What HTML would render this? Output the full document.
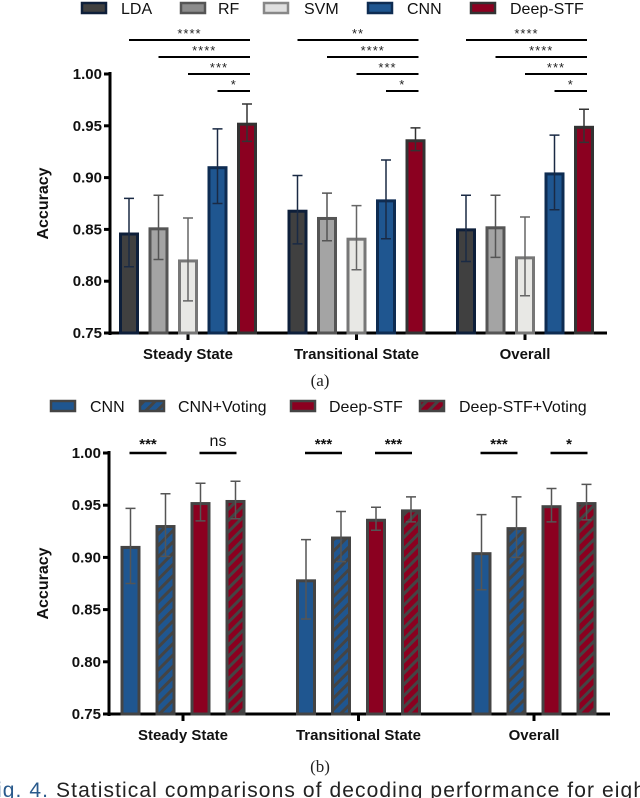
<!DOCTYPE html>
<html><head><meta charset="utf-8">
<style>
html,body{margin:0;padding:0;background:#fff;width:640px;height:798px;overflow:hidden}
svg{display:block}
text{font-family:"Liberation Sans",Arial,sans-serif}
</style></head>
<body>
<svg id="fig" width="640" height="798" viewBox="0 0 640 798" xmlns="http://www.w3.org/2000/svg">
<defs>
<pattern id="hatchBlue" patternUnits="userSpaceOnUse" width="8" height="8" patternTransform="rotate(45)">
<rect width="8" height="8" fill="#1f5690"/><rect width="3" height="8" fill="#444"/></pattern>
<pattern id="hatchRed" patternUnits="userSpaceOnUse" width="8" height="8" patternTransform="rotate(45)">
<rect width="8" height="8" fill="#8b0020"/><rect width="3" height="8" fill="#444"/></pattern>
</defs>
<g id="chartA"></g>
<g id="chartB"></g>
<text x="320" y="386" text-anchor="middle" font-size="17" fill="#222" style="font-family:'Liberation Serif',serif">(a)</text>
<text x="320" y="772" text-anchor="middle" font-size="17" fill="#222" style="font-family:'Liberation Serif',serif">(b)</text>
<text x="-3" y="797" font-size="21" fill="#222" textLength="648" lengthAdjust="spacing"><tspan fill="#2a5a8c">ig. 4.</tspan> Statistical comparisons of decoding performance for eigh</text>
</svg>
<script>
// ---------- Chart A data ----------
const catsA = ["Steady State","Transitional State","Overall"];
const seriesA = ["LDA","RF","SVM","CNN","Deep-STF"];
const valsLDA = [0.847,0.869,0.851];
const errLDA  = [0.033,0.033,0.032];
const valsRF  = [0.852,0.862,0.853];
const errRF   = [0.031,0.023,0.030];
const valsSVM = [0.821,0.842,0.824];
const errSVM  = [0.040,0.031,0.038];
const valsCNN = [0.911,0.879,0.905];
const errCNN  = [0.036,0.038,0.036];
const valsDeep= [0.953,0.937,0.950];
const errDeep = [0.018,0.011,0.016];
const sigA = [["****","****","***","*"],["**","****","***","*"],["****","****","***","*"]];
const ticksY = [0.75,0.80,0.85,0.90,0.95,1.00];
const tickLabels = ["0.75","0.80","0.85","0.90","0.95","1.00"];
// ---------- Chart B data ----------
const catsB = ["Steady State","Transitional State","Overall"];
const seriesB = ["CNN","CNN+Voting","Deep-STF","Deep-STF+Voting"];
const valsBCNN = [0.911,0.879,0.905];
const errBCNN  = [0.036,0.038,0.036];
const valsBCV  = [0.931,0.920,0.929];
const errBCV   = [0.030,0.024,0.029];
const valsBD   = [0.953,0.937,0.950];
const errBD    = [0.018,0.011,0.016];
const valsBDV  = [0.955,0.946,0.953];
const errBDV   = [0.018,0.012,0.017];
const sigB = [["***","ns"],["***","***"],["***","*"]];

const NS="http://www.w3.org/2000/svg";
function el(parent,tag,attrs,txt){const e=document.createElementNS(NS,tag);for(const k in attrs)e.setAttribute(k,attrs[k]);if(txt!==undefined)e.textContent=txt;parent.appendChild(e);return e;}

function drawChart(g,opt){
  const y=v=>opt.y0+(v-0.75)/0.25*(opt.y1-opt.y0);
  const ya=el(g,'line',{x1:opt.ax,y1:opt.y1-2,x2:opt.ax,y2:opt.y0+2,stroke:'#000','stroke-width':3});
  
  
  const xa=el(g,'line',{x1:opt.ax-1,y1:opt.y0,x2:opt.axEnd,y2:opt.y0,stroke:'#000','stroke-width':3});
  
  
  ticksY.forEach((t,i)=>{
    const tl=el(g,'line',{x1:opt.ax-6,y1:y(t),x2:opt.ax,y2:y(t),stroke:'#000','stroke-width':3});
    
    
    const tx=el(g,'text',{x:opt.ax-8,y:y(t)+5,'text-anchor':'end','font-size':15,'font-weight':'bold',fill:'#111'},tickLabels[i]);
    
    
  });
  const yt=el(g,'text',{x:0,y:0,'text-anchor':'middle','font-size':16,'font-weight':'bold',fill:'#111',transform:`translate(48,${(opt.y0+opt.y1)/2}) rotate(-90)`},'Accuracy');
  
  
  opt.cats.forEach((c,ci)=>{
    const cx=opt.c0+ci*opt.gstep;
    const tk=el(g,'line',{x1:cx,y1:opt.y0,x2:cx,y2:opt.y0+7,stroke:'#000','stroke-width':3});
    
    
    const lb=el(g,'text',{x:cx,y:opt.y0+26,'text-anchor':'middle','font-size':15,'font-weight':'bold',fill:'#111'},c);
    
    
    opt.series.forEach((s,si)=>{
      const bx=cx+opt.offs[si]-opt.bw/2;
      const v=s.vals[ci], e=s.errs[ci];
      const r=el(g,'rect',{x:bx+1.5,y:y(v)+1.5,width:opt.bw-3,height:opt.y0-y(v)-1.5,fill:s.fill,stroke:s.stroke,'stroke-width':3});
      
      
      const bcx=cx+opt.offs[si];
      const eb=el(g,'path',{d:`M${bcx},${y(v+e)}V${y(v-e)}M${bcx-5},${y(v+e)}H${bcx+5}M${bcx-5},${y(v-e)}H${bcx+5}`,stroke:s.eb,'stroke-width':1.5,fill:'none'});
      
      
    });
  });
}

function legend(g,items,y){
  items.forEach(it=>{
    const r=el(g,'rect',{x:it.sx+1,y:y-5,width:24,height:10,fill:it.fill,stroke:it.stroke,'stroke-width':2.5});
    
    
    const t=el(g,'text',{x:it.tx,y:y+6,'font-size':16,fill:'#111'},it.label);
    
    
  });
}

// Chart A
const gA=document.getElementById('chartA');
const stylesA=[
 {key:'lda',fill:'#404040',stroke:'#0e1f3a',eb:'#1a2a44'},
 {key:'rf',fill:'#a4a4a4',stroke:'#555',eb:'#555'},
 {key:'svm',fill:'#e8e8e5',stroke:'#777',eb:'#666'},
 {key:'cnn',fill:'#1f5690',stroke:'#0e2c52',eb:'#1a2a44'},
 {key:'deep',fill:'#8b0020',stroke:'#333',eb:'#333'}];
const vA=[valsLDA,valsRF,valsSVM,valsCNN,valsDeep], eA=[errLDA,errRF,errSVM,errCNN,errDeep];
drawChart(gA,{y0:333,y1:74,ax:110,axEnd:607,c0:188,gstep:168.5,bw:20,offs:[-59,-29.5,0,29.5,59],cats:catsA,
 series:stylesA.map((s,i)=>Object.assign({vals:vA[i],errs:eA[i]},s))});
const sigYA=[40,57,74,91];
catsA.forEach((c,ci)=>{
  const cx=188+ci*168.5, offs=[-59,-29.5,0,29.5,59];
  sigA[ci].forEach((s,k)=>{
    const x1=cx+offs[k], x2=cx+offs[4]+3;
    const l=el(gA,'line',{x1:x1,y1:sigYA[k],x2:x2,y2:sigYA[k],stroke:'#000','stroke-width':2});
    
    
    const t=el(gA,'text',{x:(x1+x2)/2,y:sigYA[k]-2,'text-anchor':'middle','font-size':13,'letter-spacing':'1',fill:'#222'},s);
    
    
  });
});
legend(gA,[
 {sx:81,tx:121,label:'LDA',fill:'#404040',stroke:'#0e1f3a'},
 {sx:180,tx:218,label:'RF',fill:'#8c8c8c',stroke:'#555'},
 {sx:263,tx:304,label:'SVM',fill:'#e0e0e0',stroke:'#888'},
 {sx:367,tx:407,label:'CNN',fill:'#1f5690',stroke:'#0e2c52'},
 {sx:470,tx:510,label:'Deep-STF',fill:'#8b0020',stroke:'#333'}],8);

// Chart B
const gB=document.getElementById('chartB');
const stylesB=[
 {key:'cnn',fill:'#1f5690',stroke:'#444',eb:'#555'},
 {key:'cnn-voting',fill:'url(#hatchBlue)',stroke:'#444',eb:'#555'},
 {key:'deep',fill:'#8b0020',stroke:'#444',eb:'#555'},
 {key:'deep-voting',fill:'url(#hatchRed)',stroke:'#444',eb:'#555'}];
const vB=[valsBCNN,valsBCV,valsBD,valsBDV], eB=[errBCNN,errBCV,errBD,errBDV];
const offsB=[-52.5,-17.5,17.5,52.5];
drawChart(gB,{y0:714,y1:453,ax:109,axEnd:610,c0:183,gstep:175.5,bw:20,offs:offsB,cats:catsB,
 series:stylesB.map((s,i)=>Object.assign({vals:vB[i],errs:eB[i]},s))});
catsB.forEach((c,ci)=>{
  const cx=183+ci*175.5;
  sigB[ci].forEach((s,k)=>{
    const x1=cx+offsB[k*2]-1, x2=cx+offsB[k*2+1]+1;
    const l=el(gB,'line',{x1:x1,y1:453,x2:x2,y2:453,stroke:'#000','stroke-width':2.5});
    
    
    const t=el(gB,'text',{x:(x1+x2)/2,y:s==='ns'?446:449,'text-anchor':'middle','font-size':s==='ns'?16:15,'font-weight':s==='ns'?'normal':'bold',fill:'#111'},s);
    
    
  });
});
legend(gB,[
 {sx:50,tx:90,label:'CNN',fill:'#1f5690',stroke:'#444'},
 {sx:139,tx:178,label:'CNN+Voting',fill:'url(#hatchBlue)',stroke:'#444'},
 {sx:290,tx:329,label:'Deep-STF',fill:'#8b0020',stroke:'#444'},
 {sx:419,tx:459,label:'Deep-STF+Voting',fill:'url(#hatchRed)',stroke:'#444'}],406);
</script>
</body></html>
